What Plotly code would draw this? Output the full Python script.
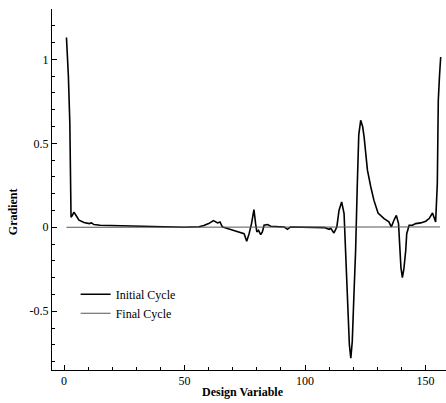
import plotly.graph_objects as go

# Initial cycle gradient
initial_x = [1, 1.8, 2.4, 2.6, 2.75, 2.9, 3.4, 4.1, 5.0, 6.2, 8.3, 10.4, 11.4, 12.4, 15, 22, 30, 36, 44,
             50, 56, 58, 60, 62, 63.7, 64.7, 65.7, 67, 69.9, 72.6, 74.7, 75.8, 76.8, 77.8, 78.8, 79.5,
             80, 80.7, 81.6, 82.3, 83, 84.4, 85.8, 91.3, 92.7, 94, 99.6, 105, 108, 110, 110.7, 112,
             113.2, 114.1, 115.2, 116.2, 116.9, 117.6, 118.4, 119, 119.6, 120.3, 121, 121.7, 122.3,
             123.1, 123.9, 124.5, 125.2, 125.9, 127.3, 128.6, 130.3, 132.8, 134.8, 135.8, 136.9, 137.9,
             138.8, 139.3, 139.8, 140.4, 141.0, 141.8, 142.2, 143.2, 144.6, 145.9, 148, 150.1, 151.5,
             152.9, 154.2, 154.9, 155.3, 155.8, 156.3]
initial_y = [1.13, 0.9, 0.62, 0.35, 0.15, 0.06, 0.07, 0.09, 0.07, 0.042, 0.028, 0.022, 0.026, 0.016, 0.012,
             0.01, 0.007, 0.006, 0.002,
             0.0, 0.003, 0.01, 0.022, 0.04, 0.026, 0.032, 0.002, -0.004, -0.014, -0.028, -0.038, -0.083,
             -0.038, 0.022, 0.105, 0.02,
             -0.028, -0.018, -0.044, -0.028, 0.012, 0.016, 0.006, 0.002, -0.012, 0.002, 0.001, 0.0,
             -0.002, -0.012, -0.006, -0.034,
             0.002, 0.10, 0.151, 0.081, -0.137, -0.42, -0.7, -0.78, -0.68, -0.4, -0.137, 0.26, 0.55,
             0.637, 0.6, 0.54, 0.458, 0.34, 0.24, 0.16, 0.085, 0.052, 0.032, 0.002, 0.042, 0.071,
             0.022, -0.137, -0.24, -0.30, -0.25, -0.137, -0.038, 0.012, 0.012, 0.022, 0.026, 0.036, 0.052,
             0.085, 0.032, 0.26, 0.756, 0.9, 1.014]

# Final cycle gradient
final_x = [1, 20, 40, 60, 80, 100, 120, 140, 156]
final_y = [0.0, 0.0, 0.0, 0.0, 0.0, 0.0, 0.0, 0.0, 0.002]

y_tickvals = [-0.5, 0, 0.5, 1]
y_ticktext = ["-0.5", "0", "0.5", "1"]

FONT = "Liberation Serif"

fig = go.Figure()
fig.add_trace(go.Scatter(x=initial_x, y=initial_y, mode="lines", name="Initial Cycle",
                         line=dict(color="black", width=1.6)))
fig.add_trace(go.Scatter(x=final_x, y=final_y, mode="lines", name="Final Cycle",
                         line=dict(color="#555555", width=1)))

fig.update_layout(
    width=446, height=403,
    margin=dict(l=52, r=0, t=9, b=33),
    paper_bgcolor="white", plot_bgcolor="white",
    font=dict(family=FONT, size=12, color="black"),
    showlegend=True,
    legend=dict(x=0.06, y=0.25, xanchor="left", yanchor="top",
                bgcolor="rgba(0,0,0,0)", font=dict(family=FONT, size=12),
                tracegroupgap=0),
    xaxis=dict(range=[-5, 158.5], showgrid=False, zeroline=False,
               showline=True, linecolor="black", linewidth=1,
               ticks="inside", ticklen=5, tickcolor="black", dtick=50, tick0=0,
               minor=dict(dtick=10, tick0=0, ticks="inside", ticklen=3, tickcolor="black"),
               tickfont=dict(family=FONT, size=12)),
    yaxis=dict(range=[-0.85, 1.3], showgrid=False, zeroline=False,
               showline=True, linecolor="black", linewidth=1,
               ticks="inside", ticklen=5, tickcolor="black",
               tickvals=y_tickvals, ticktext=y_ticktext,
               minor=dict(dtick=0.1, tick0=0, ticks="inside", ticklen=3, tickcolor="black"),
               tickfont=dict(family=FONT, size=12)),
    annotations=[
        dict(text="<b>Design Variable</b>", xref="paper", yref="paper", x=0.485, y=-0.061,
             xanchor="center", yanchor="middle", showarrow=False, font=dict(family=FONT, size=12)),
        dict(text="<b>Gradient</b>", xref="paper", yref="paper", x=-0.099, y=0.44,
             xanchor="center", yanchor="middle", showarrow=False, textangle=-90,
             font=dict(family=FONT, size=12)),
    ],
)

fig.write_html(
    "out.html",
    config={"displayModeBar": False},
    post_script="document.body.style.margin='0';document.body.style.overflow='hidden';"
                "document.documentElement.style.overflow='hidden';",
)
